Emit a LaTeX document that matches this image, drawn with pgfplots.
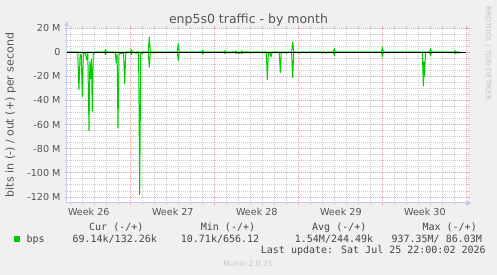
\documentclass[border=0pt]{standalone}
\usepackage{pgfplots}
\pgfplotsset{compat=1.18}
\usepackage{fontspec}
\setmainfont{DejaVu Sans}
\newfontfamily\monofont{DejaVu Sans Mono}
\usetikzlibrary{arrows.meta}
\definecolor{bgc}{HTML}{F0F0F0}
\definecolor{mgreen}{HTML}{00CC00}
\definecolor{txt}{HTML}{555555}
\definecolor{ltxt}{HTML}{444444}
\definecolor{gridc}{HTML}{CFCFCF}
\definecolor{mgridc}{HTML}{EFA0A0}
\definecolor{axisc}{HTML}{C8C8F4}
\definecolor{faint}{HTML}{C4C4C4}
\begin{document}
\begin{tikzpicture}[x=1pt,y=1pt]
\useasboundingbox (0,0) rectangle (497,275);
\fill[bgc] (0,0) rectangle (497,275);
\begin{axis}[
  name=ax,
  at={(66.7pt,72pt)}, anchor=south west,
  scale only axis, width=401pt, height=175pt,
  xmin=-5.29, xmax=28.12, ymin=-125, ymax=20,
  axis background/.style={fill=white},
  axis line style={draw=none},
  grid=both,
  major grid style={mgridc, line width=0.8pt, dash pattern=on 1pt off 1pt},
  minor grid style={gridc, line width=0.8pt, dash pattern=on 1pt off 1pt},
  tick pos=both, tick align=outside,
  major tick length=2pt, minor tick length=2pt,
  major tick style={mgridc, line width=0.8pt},
  minor tick style={gridc, line width=0.8pt},
  xtick={-7,0,7,14,21,28}, xticklabels={},
  minor x tick num=6,
  ytick={-120,-100,-80,-60,-40,-20,0,20},
  yticklabels={-120 M,-100 M,-80 M,-60 M,-40 M,-20 M,0,20 M},
  minor y tick num=3,
  yticklabel style={font=\fontsize{9.6}{11}\selectfont, text=txt, anchor=east, inner sep=0pt, xshift=-4pt},
  extra x ticks={-3.45,3.55,10.55,17.55,24.55},
  extra x tick labels={Week 26,Week 27,Week 28,Week 29,Week 30},
  extra x tick style={grid=none, major tick length=0pt, major tick style={draw=none},
    xticklabel style={font=\fontsize{9.6}{11}\selectfont, text=txt, anchor=north, inner sep=0pt, yshift=-5.5pt}},
]
% in (negative)
\addplot[mgreen, line width=1pt, line join=round] coordinates {
(-5.29,0) (-4.37,0) (-4.27,-31) (-4.17,-2) (-4.08,-2) (-3.99,-37) (-3.90,-1)
(-3.72,-1) (-3.625,-6.5) (-3.53,-1)
(-3.433,-65) (-3.36,-8) (-3.29,-22) (-3.23,-6) (-3.158,-49) (-3.08,-2) (-3.017,-1.5) (-2.95,0)
(-2.14,0) (-2.06,-2) (-1.98,0)
(-1.25,0) (-1.158,-9) (-1.09,-2) (-1.017,-63) (-0.93,-1)
(-0.55,-1) (-0.458,-26) (-0.375,-2) (-0.30,0)
(0.01,0) (0.09,-2) (0.17,0)
(0.40,0) (0.483,-1.2) (0.56,0)
(0.70,0) (0.792,-118) (0.88,-1) (1.008,-1.2) (1.09,0)
(1.50,0) (1.592,-12.5) (1.68,0)
(1.90,0) (1.983,-0.8) (2.06,0)
(2.18,0) (2.258,-0.6) (2.34,0)
(2.82,0) (2.9,-0.6) (2.98,0)
(3.92,0) (4.008,-7) (4.09,0)
(5.96,0) (6.042,-1.5) (6.12,0)
(7.82,0) (7.9,-1.2) (7.98,0)
(8.24,0) (8.317,-0.6) (8.40,0)
(8.74,0) (8.817,-1.2) (8.9,0) (9.067,-1.2) (9.15,0) (9.317,-1.2) (9.4,0)
(9.96,0) (10.04,-0.8) (10.12,0)
(10.93,0) (11.01,-0.8) (11.09,0)
(11.34,0) (11.425,-23) (11.51,-1) (11.65,-1) (11.733,-4) (11.82,0)
(12.42,0) (12.508,-17) (12.59,0)
(12.96,0) (13.04,-1) (13.12,0)
(13.45,0) (13.54,-21) (13.63,0)
(14.01,0) (14.09,-1) (14.17,0)
(14.57,0) (14.65,-0.8) (14.73,0)
(15.93,0) (16.01,-0.8) (16.09,0) (16.34,-0.8) (16.42,0)
(16.93,0) (17.01,-3) (17.09,0)
(20.93,0) (21.01,-4) (21.09,0)
(21.38,0) (21.46,-0.8) (21.54,0)
(24.34,0) (24.425,-28) (24.475,-8) (24.525,-20) (24.61,0)
(24.94,0) (25.025,-3) (25.11,0)
(26.99,0) (27.07,-1.2) (27.15,0) (27.32,-0.8) (27.40,0) (27.5,0)
};
% out (positive)
\addplot[mgreen, line width=1pt, line join=round] coordinates {
(-5.29,0) (-2.14,0) (-2.06,2) (-1.98,0) (0.01,0) (0.09,2) (0.17,0)
(1.50,0) (1.592,12.5) (1.68,0) (3.92,0) (4.008,7) (4.09,0)
(5.96,0) (6.042,1.5) (6.12,0) (7.82,0) (7.9,1) (7.98,0)
(8.74,0) (8.817,1) (8.9,0) (9.23,0) (9.317,1) (9.4,0)
(13.45,0) (13.54,8.5) (13.63,0) (16.93,0) (17.01,3) (17.09,0)
(20.93,0) (21.01,4) (21.09,0) (24.94,0) (25.025,3) (25.11,0)
(26.99,0) (27.07,1) (27.15,0) (27.5,0)
};
% zero rule
\addplot[black, line width=1pt] coordinates {(-5.29,0) (27.96,0)};
\end{axis}
\draw[axisc, line width=1pt, shorten >=-7pt, -{Triangle[length=5pt,width=5pt]}] (ax.south west) -- (ax.north west);
\draw[axisc, line width=1pt, shorten >=-4pt, -{Triangle[length=5pt,width=5pt]}] (ax.south west) -- (ax.south east);
% title and labels
\node[anchor=base, inner sep=0pt, text=txt] at (248.5,251) {\fontsize{12.5}{14}\selectfont enp5s0 traffic - by month};
\node[rotate=90, inner sep=0pt, text=txt] at (10.7,160) {\fontsize{11}{13}\selectfont bits in (-) / out (+) per second};
\node[rotate=-90, inner sep=0pt, text=faint] at (488.3,221.6) {\fontsize{7.3}{8}\selectfont RRDTOOL / TOBI OETIKER};
% legend
\begin{scope}[every node/.style={anchor=base west, inner sep=0pt, text=ltxt, font=\monofont\fontsize{10}{12}\selectfont}]
\node at (89,44) {Cur (-/+)};
\node at (200.7,44) {Min (-/+)};
\node at (312,44) {Avg (-/+)};
\node at (422.4,44) {Max (-/+)};
\node at (26.4,32.3) {bps};
\node at (72.4,32.3) {69.14k/132.26k};
\node at (180.7,32.3) {10.71k/656.12};
\node at (294.7,32.3) {1.54M/244.49k};
\node at (391.4,32.3) {937.35M/ 86.03M};
\node at (260.7,21) {Last update: Sat Jul 25 22:00:02 2026};
\end{scope}
\node[fill=mgreen, minimum size=6pt, inner sep=0pt] at (16.7,35.5) {};
\node[anchor=base, inner sep=0pt, text=faint] at (248,8.5) {\fontsize{7.5}{9}\selectfont Munin 2.0.75};
\end{tikzpicture}
\end{document}
